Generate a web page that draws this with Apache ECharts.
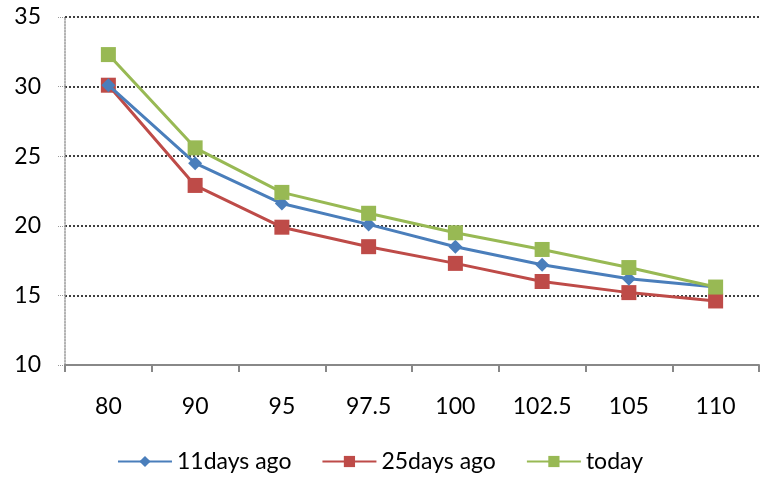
<!DOCTYPE html>
<html lang="en">
<head>
  <meta charset="UTF-8">
  <title>Chart</title>
  <script src="https://cdn.jsdelivr.net/npm/echarts@6/dist/echarts.min.js"></script>
  <style>
    html, body { margin: 0; padding: 0; background: #fff; }
    #chart { width: 760px; height: 482px; }
  </style>
</head>
<body>
  <div id="chart"></div>
  <script>
    var categories = ['80', '90', '95', '97.5', '100', '102.5', '105', '110'];
    var days11 = [30.1, 24.5, 21.6, 20.1, 18.5, 17.2, 16.2, 15.6];
    var days25 = [30.1, 22.9, 19.9, 18.5, 17.3, 16.0, 15.2, 14.6];
    var today = [32.3, 25.6, 22.4, 20.9, 19.5, 18.3, 17.0, 15.6];

    var fontName = 'Lato, "Open Sans", sans-serif';
    var oChart = echarts.init(document.getElementById('chart'));

    var opt = {
      animation: false,
      textStyle: { fontFamily: fontName },
      legend: {
        bottom: 4,
        left: 'center',
        itemWidth: 54,
        itemHeight: 14,
        itemGap: 30,
        textStyle: { fontSize: 23, color: '#000', fontFamily: fontName },
        data: ['11days ago', '25days ago', 'today']
      },
      grid: { left: 65, right: 1, top: 17, bottom: 117 },
      xAxis: {
        type: 'category',
        boundaryGap: true,
        data: categories,
        axisLine: { lineStyle: { color: '#888', width: 2 } },
        axisTick: { show: true, length: 7, lineStyle: { color: '#888', width: 2 } },
        axisLabel: { fontSize: 23, color: '#000', margin: 30 }
      },
      yAxis: {
        type: 'value',
        min: 10,
        max: 35,
        interval: 5,
        axisLine: { show: true, lineStyle: { color: '#999', type: 'dotted', width: 1.5 } },
        axisTick: { show: true, length: 8, lineStyle: { color: '#999', type: 'dotted' } },
        axisLabel: { fontSize: 23, color: '#000', margin: 24 },
        splitLine: { show: true, lineStyle: { color: '#000', type: [2, 2], width: 1.5 } }
      },
      series: [
        {
          name: '11days ago',
          type: 'line',
          data: days11,
          symbol: 'diamond',
          symbolSize: 14,
          lineStyle: { color: '#4a7ebb', width: 3 },
          itemStyle: { color: '#4a7ebb' },
          z: 3
        },
        {
          name: '25days ago',
          type: 'line',
          data: days25,
          symbol: 'rect',
          symbolSize: 15,
          lineStyle: { color: '#be4b48', width: 3 },
          itemStyle: { color: '#be4b48' },
          z: 2
        },
        {
          name: 'today',
          type: 'line',
          data: today,
          symbol: 'rect',
          symbolSize: 15,
          lineStyle: { color: '#98b954', width: 3 },
          itemStyle: { color: '#98b954' },
          z: 4
        }
      ]
    };
    oChart.setOption(opt);
  </script>
</body>
</html>
